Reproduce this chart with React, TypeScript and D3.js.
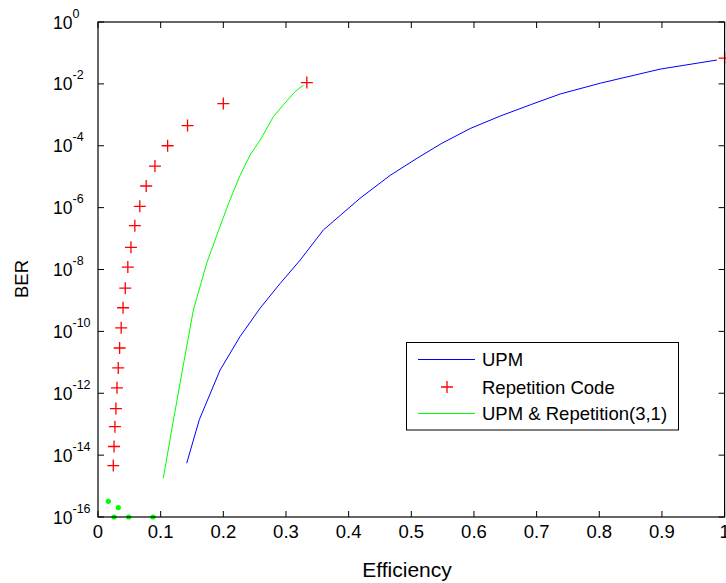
import React from "react";
import * as d3 from "d3";

// ---- data ----
const upmEff = [0.1416, 0.1617, 0.1948, 0.2267, 0.2586, 0.2905, 0.3225, 0.3597, 0.4182, 0.4662, 0.5088, 0.5487, 0.5939, 0.6418, 0.6897, 0.7375, 0.8014, 0.8972, 0.9877];
const upmBer = [5.5e-15, 1.4e-13, 5.6e-12, 6.8e-11, 5.6e-10, 3.5e-9, 2.0e-8, 1.9e-7, 2.0e-6, 1.1e-5, 3.9e-5, 1.2e-4, 3.6e-4, 9.1e-4, 2.1e-3, 4.7e-3, 1.05e-2, 3.0e-2, 5.9e-2];

const repEff = [1, 0.3333, 0.2, 0.1429, 0.1111, 0.0909, 0.0769, 0.0667, 0.0588, 0.0526, 0.0476, 0.0435, 0.04, 0.037, 0.0345, 0.0323, 0.0303, 0.0286, 0.027, 0.0256, 0.0244];
const repBer = [6.8e-2, 1.1e-2, 2.3e-3, 4.5e-4, 1.0e-4, 2.2e-5, 5.0e-6, 1.1e-6, 2.6e-7, 5.2e-8, 1.2e-8, 2.5e-9, 5.8e-10, 1.3e-10, 2.9e-11, 6.6e-12, 1.5e-12, 3.2e-13, 8.3e-14, 1.9e-14, 4.6e-15];

const comboEff = [0.1043, 0.1176, 0.1309, 0.1522, 0.1735, 0.1948, 0.2107, 0.2267, 0.2427, 0.2586, 0.2799, 0.2958, 0.3145, 0.3278];
const comboBer = [1.8e-15, 6.5e-14, 2.1e-12, 4.9e-10, 1.6e-8, 2.5e-7, 1.8e-6, 1.1e-5, 5.0e-5, 1.5e-4, 8.7e-4, 2.1e-3, 5.6e-3, 9.1e-3];

const dotEff = [0.0165, 0.0324, 0.0256, 0.049, 0.0878];
const dotBer = [3.2e-16, 2.0e-16, 1e-16, 1e-16, 1e-16];

const xTicks = [0, 0.1, 0.2, 0.3, 0.4, 0.5, 0.6, 0.7, 0.8, 0.9, 1];
const xTickLabels = ["0", "0.1", "0.2", "0.3", "0.4", "0.5", "0.6", "0.7", "0.8", "0.9", "1"];
const yExps = [0, -2, -4, -6, -8, -10, -12, -14, -16];

const legendNames = ["UPM", "Repetition Code", "UPM & Repetition(3,1)"];

const FONT = "'Liberation Sans', Arial, sans-serif";

export default function App() {
  const W = 726, H = 583;
  const L = 98, R = 724.6, T = 22, B = 517;
  const x = d3.scaleLinear().domain([0, 1]).range([L, R]);
  const y = d3.scaleLog().domain([1e-16, 1]).range([B, T]);

  const line = d3
    .line<[number, number]>()
    .x((d) => x(d[0]))
    .y((d) => y(d[1]));

  const upm = upmEff.map((e, i) => [e, upmBer[i]] as [number, number]);
  const combo = comboEff.map((e, i) => [e, comboBer[i]] as [number, number]);

  const cross = (cx: number, cy: number, s: number, key: string) => (
    <path
      key={key}
      d={`M${cx - s},${cy}H${cx + s}M${cx},${cy - s}V${cy + s}`}
      stroke="#ff0000"
      strokeWidth={1.3}
      fill="none"
    />
  );

  const legX = 406.5, legY = 342.5, legW = 272, legH = 87.5;
  const rows = [359.5, 387, 413.5];

  return (
    <svg
      width={W}
      height={H}
      style={{ position: "absolute", left: 0, top: 0, background: "#fff" }}
      fontFamily={FONT}
    >
      <rect x={0} y={0} width={W} height={H} fill="#fff" />
      {/* ticks */}
      {xTicks.map((t, i) => (
        <g key={"xt" + i}>
          <line x1={x(t)} x2={x(t)} y1={B} y2={B - 6} stroke="#000" />
          <line x1={x(t)} x2={x(t)} y1={T} y2={T + 6} stroke="#000" />
          <text x={x(t)} y={538} textAnchor="middle" fontSize={18.5} fill="#000">
            {xTickLabels[i]}
          </text>
        </g>
      ))}
      {yExps.map((e) => (
        <g key={"yt" + e}>
          <line x1={L} x2={L + 6} y1={y(Math.pow(10, e))} y2={y(Math.pow(10, e))} stroke="#000" />
          <line x1={R - 6} x2={R} y1={y(Math.pow(10, e))} y2={y(Math.pow(10, e))} stroke="#000" />
          <text x={53} y={y(Math.pow(10, e)) + 6.5} fontSize={17.5} fill="#000">
            10
            <tspan fontSize={12.5} dy={-11}>
              {e === 0 ? "0" : String(e)}
            </tspan>
          </text>
        </g>
      ))}
      {/* series */}
      <path d={line(upm) || ""} fill="none" stroke="#0000ff" strokeWidth={1} />
      <path d={line(combo) || ""} fill="none" stroke="#00ff00" strokeWidth={1} />
      {repEff.map((e, i) => cross(x(e), y(repBer[i]), 6, "r" + i))}
      {dotEff.map((e, i) => (
        <circle key={"d" + i} cx={x(e)} cy={y(dotBer[i])} r={2.6} fill="#00ff00" />
      ))}
      {/* axes box */}
      <rect x={L} y={T} width={R - L} height={B - T} fill="none" stroke="#000" strokeWidth={1.2} />
      {/* labels */}
      <text x={407} y={577} textAnchor="middle" fontSize={21} fill="#000">
        Efficiency
      </text>
      <text transform="translate(28,279) rotate(-90)" textAnchor="middle" fontSize={18.5} fill="#000">
        BER
      </text>
      {/* legend */}
      <rect x={legX} y={legY} width={legW} height={legH} fill="#fff" stroke="#000" strokeWidth={1} />
      <line x1={418} x2={475} y1={rows[0]} y2={rows[0]} stroke="#0000ff" />
      {cross(447, rows[1], 6, "leg")}
      <line x1={418} x2={475} y1={rows[2]} y2={rows[2]} stroke="#00ff00" />
      {legendNames.map((n, i) => (
        <text key={n} x={482} y={rows[i] + 6.5} fontSize={18.5} fill="#000">
          {n}
        </text>
      ))}
    </svg>
  );
}
